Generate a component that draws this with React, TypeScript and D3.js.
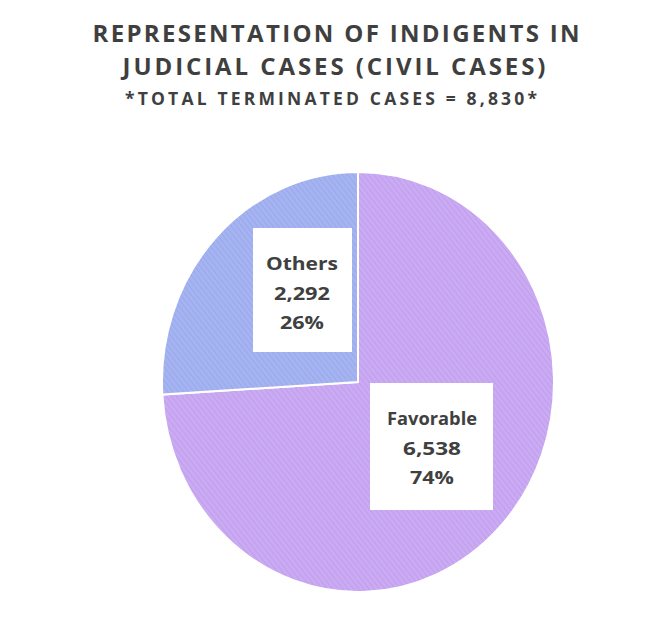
import React from "react";
import * as d3 from "d3";

const categories = ["Favorable", "Others"];
const values = [6538, 2292];
const percents = ["74%", "26%"];
const colors = ["#caaaf2", "#a5b4f1"];
const hatchColors = ["#bb98ea", "#91a2ea"];
const titleLines = ["REPRESENTATION OF INDIGENTS IN", "JUDICIAL CASES (CIVIL CASES)"];
const subtitle = "*TOTAL TERMINATED CASES = 8,830*";

const W = 648;
const H = 628;
const cx = 358;
const cy = 382;
const rx = 196;
const ry = 210;

const labelBoxes = [
  { x: 370, y: 383, w: 123, h: 127, tx: 432, base: 425, tl: [90, 58, 44] },
  { x: 253, y: 228, w: 99, h: 124, tx: 302, base: 270, tl: [72, 56, 44] },
];

export default function App() {
  const pie = d3.pie<number>().sort(null).value((d) => d);
  const arcs = pie(values);
  const arc = d3.arc<d3.PieArcDatum<number>>().innerRadius(0).outerRadius(rx);
  const fmt = d3.format(",");
  return (
    <svg
      width={W}
      height={H}
      style={{ position: "absolute", left: 0, top: 0, background: "#fff" }}
      fontFamily="'Open Sans', sans-serif"
    >
      <defs>
        {colors.map((c, i) => (
          <pattern
            key={i}
            id={`hatch${i}`}
            width={4}
            height={4}
            patternUnits="userSpaceOnUse"
            patternTransform="rotate(-40)"
          >
            <rect width={4} height={4} fill={c} />
            <line x1={0} y1={0} x2={0} y2={4} stroke={hatchColors[i]} strokeWidth={1.2} />
          </pattern>
        ))}
      </defs>
      <rect width={W} height={H} fill="#fff" />
      <g fill="#3f3f3f" fontWeight={700} textAnchor="middle">
        <text x={336} y={42} fontSize={24} textLength={487} lengthAdjust="spacing">
          {titleLines[0]}
        </text>
        <text x={334} y={75} fontSize={24} textLength={423} lengthAdjust="spacing">
          {titleLines[1]}
        </text>
        <text x={331} y={105} fontSize={17.5} textLength={412} lengthAdjust="spacing">
          {subtitle}
        </text>
      </g>
      <g transform={`translate(${cx},${cy}) scale(1,${ry / rx})`}>
        {arcs.map((a, i) => (
          <path
            key={i}
            d={arc(a) || ""}
            fill={`url(#hatch${i})`}
            stroke="#ffffff"
            strokeWidth={2}
            vectorEffect="non-scaling-stroke"
          />
        ))}
      </g>
      {categories.map((c, i) => {
        const b = labelBoxes[i];
        const lines = [c, fmt(values[i]), percents[i]];
        return (
          <g key={c}>
            <rect x={b.x} y={b.y} width={b.w} height={b.h} fill="#fff" />
            <g fill="#404040" fontWeight={700} fontSize={18} textAnchor="middle">
              {lines.map((t, j) => (
                <text
                  key={j}
                  x={b.tx}
                  y={b.base + j * 29.5}
                  textLength={b.tl[j]}
                  lengthAdjust="spacingAndGlyphs"
                >
                  {t}
                </text>
              ))}
            </g>
          </g>
        );
      })}
    </svg>
  );
}
